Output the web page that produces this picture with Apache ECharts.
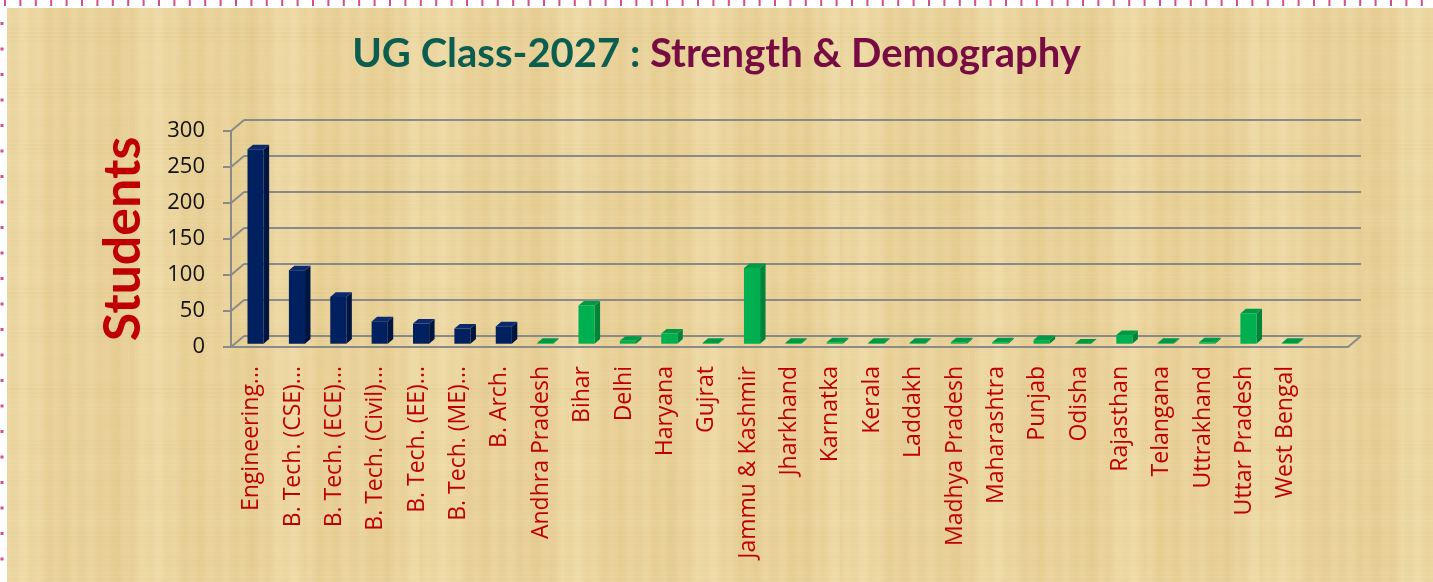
<!DOCTYPE html>
<html><head><meta charset="utf-8">
<script src="https://cdn.jsdelivr.net/npm/echarts@6/dist/echarts.min.js"></script>
<style>html,body{margin:0;padding:0;background:#fff}#c{width:1433px;height:582px}</style>
</head><body><div id="c"></div>
<script>
// ---- data ----
const programs = ['Engineering...', 'B. Tech. (CSE)...', 'B. Tech. (ECE)...', 'B. Tech. (Civil)...', 'B. Tech. (EE)...', 'B. Tech. (ME)...', 'B. Arch.'];
const programValues = [270, 102, 65, 31, 28, 21, 24];
const states = ['Andhra Pradesh', 'Bihar', 'Delhi', 'Haryana', 'Gujrat', 'Jammu & Kashmir', 'Jharkhand', 'Karnatka', 'Kerala', 'Laddakh', 'Madhya Pradesh', 'Maharashtra', 'Punjab', 'Odisha', 'Rajasthan', 'Telangana', 'Uttrakhand', 'Uttar Pradesh', 'West Bengal'];
const stateValues = [1, 53, 4, 14, 1, 105, 1, 2, 1, 1, 2, 2, 5, 0, 12, 1, 2, 42, 1];
const yTicks = [0, 50, 100, 150, 200, 250, 300];

const categories = programs.concat(states, ['']);
const barData = [];
programs.forEach((n, i) => barData.push({value: [i, programValues[i], 0]}));
states.forEach((n, i) => barData.push({value: [programs.length + i, stateValues[i], 1]}));

// ---- style ----
const DX = 13, DY = -11;       // floor depth
const FRONT = 0.3, DEPTH = 0.42; // bar depth position
const palettes = [
  {front: '#002060', side: '#001640', top: '#0b2a6e'},
  {front: '#00B050', side: '#00843a', top: '#009a45'}
];
const gridColor = '#8a8a8a';

// parchment texture (deterministic)
function makeTexture() {
  const c = document.createElement('canvas');
  c.width = 420; c.height = 300;
  const g = c.getContext('2d');
  g.fillStyle = '#ead39b'; g.fillRect(0, 0, 420, 300);
  for (let x = 0; x < 420; x += 3) {
    const s = Math.sin(x * 0.071) * Math.sin(x * 0.023 + 1.3) + 0.4 * Math.sin(x * 0.37);
    if (s > 0) g.fillStyle = 'rgba(250,238,200,' + (0.22 * s).toFixed(3) + ')';
    else g.fillStyle = 'rgba(200,165,85,' + (-0.14 * s).toFixed(3) + ')';
    g.fillRect(x, 0, 3, 300);
  }
  for (let y = 0; y < 300; y += 4) {
    const s = Math.sin(y * 0.17 + 2) * Math.sin(y * 0.05);
    g.fillStyle = s > 0 ? 'rgba(205,175,105,' + (0.08 * s).toFixed(3) + ')' : 'rgba(250,240,205,' + (-0.1 * s).toFixed(3) + ')';
    g.fillRect(0, y, 420, 2);
  }
  return c;
}

const chart = echarts.init(document.getElementById('c'), null, {renderer: 'canvas'});

function renderBar(params, api) {
  const idx = api.value(0), v = api.value(1), pal = palettes[api.value(2)];
  const band = api.size([1, 0])[0];
  const w = band * 0.39;
  const b = api.coord([idx, 0]);
  const t = api.coord([idx, v]);
  const ox = FRONT * DX, oy = FRONT * DY;
  const dx = DEPTH * DX, dy = DEPTH * DY;
  const L = b[0] - w / 2 + ox, R = b[0] + w / 2 + ox;
  const B = b[1] + oy, T = t[1] + oy;
  return {
    type: 'group',
    children: [
      {type: 'polygon', shape: {points: [[R, B], [R + dx, B + dy], [R + dx, T + dy], [R, T]]}, style: {fill: pal.side}},
      {type: 'polygon', shape: {points: [[L, T], [R, T], [R + dx, T + dy], [L + dx, T + dy]]}, style: {fill: pal.top}},
      {type: 'rect', shape: {x: L, y: T, width: w, height: B - T}, style: {fill: pal.front}}
    ]
  };
}

function renderDiag(params, api) {
  const v = api.value(0);
  const band = api.size([1, 0])[0];
  const p = api.coord([0, v]);
  const x0 = p[0] - band / 2;
  const lines = [{type: 'line', shape: {x1: x0, y1: p[1], x2: x0 + DX, y2: p[1] + DY}, style: {stroke: gridColor, lineWidth: 2}}];
  if (v === 0) {
    const q = api.coord([categories.length - 1, 0]);
    const x1 = q[0] + band / 2;
    lines.push({type: 'line', shape: {x1: x1, y1: q[1], x2: x1 + DX, y2: q[1] + DY}, style: {stroke: gridColor, lineWidth: 2}});
  }
  return {type: 'group', children: lines};
}

const option = {
  backgroundColor: '#ffffff',
  animation: false,
  title: {
    left: 'center', top: 29,
    text: '{a|UG Class-2027 : }{b|Strength & Demography}',
    textStyle: {
      rich: {
        a: {fontFamily: 'Lato', fontWeight: 'bold', fontSize: 40, color: '#0b5e4f'},
        b: {fontFamily: 'Lato', fontWeight: 'bold', fontSize: 40, color: '#760c42'}
      }
    }
  },
  graphic: [
    {type: 'rect', z: -100, silent: true, shape: {x: 7, y: 8, width: 1426, height: 574},
     style: {fill: {image: makeTexture(), repeat: 'repeat'}}},
    {type: 'line', z: -99, silent: true, shape: {x1: 4, y1: 3, x2: 1433, y2: 3},
     style: {stroke: '#d0508c', lineWidth: 6, lineDash: [2, 13.4]}},
    {type: 'line', z: -99, silent: true, shape: {x1: 2, y1: 22, x2: 2, y2: 582},
     style: {stroke: '#d0508c', lineWidth: 3, lineDash: [3, 22.5]}}
  ],
  grid: [
    {left: 231, right: 85, top: 131, bottom: 235},
    {left: 244, right: 72, top: 120, bottom: 246}
  ],
  xAxis: [
    {type: 'category', gridIndex: 0, data: categories,
     axisLine: {show: true, lineStyle: {color: gridColor, width: 2}},
     axisTick: {show: false},
     axisLabel: {interval: 0, rotate: 90, margin: 19, color: '#c00000', fontFamily: 'Open Sans', fontSize: 23}},
    {type: 'category', gridIndex: 1, data: categories, show: false}
  ],
  yAxis: [
    {type: 'value', gridIndex: 0, min: 0, max: 300, interval: 50,
     name: 'Students', nameLocation: 'middle', nameGap: 82, nameRotate: 90,
     nameTextStyle: {fontFamily: 'Lato', fontWeight: 'bold', fontSize: 52, color: '#c00000'},
     axisLine: {show: true, lineStyle: {color: gridColor, width: 2}},
     axisTick: {show: true, length: 8, lineStyle: {color: gridColor, width: 2}},
     splitLine: {show: false},
     axisLabel: {margin: 26, color: '#111', fontFamily: 'Open Sans', fontSize: 22}},
    {type: 'value', gridIndex: 1, min: 0, max: 300, interval: 50,
     axisLine: {show: false}, axisTick: {show: false}, axisLabel: {show: false},
     splitLine: {show: true, lineStyle: {color: gridColor, width: 2}}}
  ],
  series: [
    {type: 'custom', xAxisIndex: 0, yAxisIndex: 0, renderItem: renderDiag, silent: true,
     data: yTicks.map(v => [v]), encode: {x: -1, y: 0}, z: 1},
    {type: 'custom', xAxisIndex: 0, yAxisIndex: 0, renderItem: renderBar,
     data: barData, encode: {x: 0, y: 1}, z: 5}
  ]
};
chart.setOption(option);
</script>
</body></html>
